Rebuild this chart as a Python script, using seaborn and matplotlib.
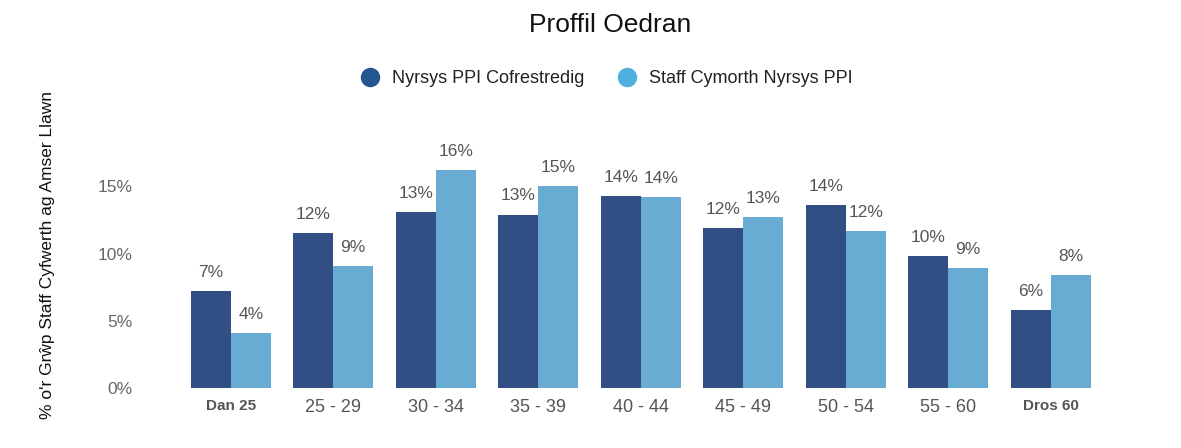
import matplotlib
matplotlib.use("Agg")
import matplotlib.pyplot as plt
import pandas as pd
import seaborn as sns
from matplotlib.lines import Line2D

# Age groups and shares (%)
age_groups = ["Dan 25", "25 - 29", "30 - 34", "35 - 39", "40 - 44",
              "45 - 49", "50 - 54", "55 - 60", "Dros 60"]
registered = [7.2, 11.5, 13.1, 12.9, 14.3, 11.9, 13.6, 9.8, 5.8]
support = [4.1, 9.1, 16.2, 15.0, 14.2, 12.7, 11.7, 8.9, 8.4]
series_names = ["Nyrsys PPI Cofrestredig", "Staff Cymorth Nyrsys PPI"]
bar_colors = ["#314f84", "#68acd3"]
legend_colors = ["#25578f", "#4fb0e0"]

df = pd.DataFrame({
    "grwp": age_groups * 2,
    "gwerth": registered + support,
    "cyfres": [series_names[0]] * len(age_groups) + [series_names[1]] * len(age_groups),
})

sns.set_theme(style="white")
plt.rcParams["font.family"] = ["Liberation Sans", "DejaVu Sans"]

fig = plt.figure(figsize=(11.81, 4.48), dpi=100)
ax = fig.add_axes([0.152, 0.134, 0.781, 0.54])

sns.barplot(data=df, x="grwp", y="gwerth", hue="cyfres", order=age_groups,
            hue_order=series_names, palette=bar_colors, width=0.78,
            saturation=1, ax=ax, legend=False, linewidth=0)

for cont in ax.containers:
    labels = [f"{round(b.get_height()):d}%" for b in cont]
    ax.bar_label(cont, labels=labels, padding=8, fontsize=12.5, color="#555555")

ax.set_xlim(-0.5, 8.5)
ax.set_ylim(0, 18)
ax.set_yticks([0, 5, 10, 15])
ax.set_yticklabels(["0%", "5%", "10%", "15%"])
ax.tick_params(axis="y", length=0, pad=34, labelsize=12.5, labelcolor="#666666")
ax.tick_params(axis="x", length=0, pad=8, labelsize=13, labelcolor="#555555")
for lbl in ax.get_xticklabels():
    if lbl.get_text() in ("Dan 25", "Dros 60"):
        lbl.set_fontsize(11)
        lbl.set_fontweight("bold")

ax.set_xlabel("")
ax.set_ylabel("% o'r Grŵp Staff Cyfwerth ag Amser Llawn", fontsize=12.5,
              color="#111111", labelpad=0)
ax.yaxis.set_label_coords(-0.135, 0.55)
sns.despine(ax=ax, left=True, bottom=True)

fig.text(0.517, 0.945, "Proffil Oedran", ha="center", va="center",
         fontsize=19, color="#111111")

handles = [Line2D([0], [0], marker="o", linestyle="", markersize=14,
                  markerfacecolor=c, markeredgewidth=0) for c in legend_colors]
fig.legend(handles, series_names, loc="center", bbox_to_anchor=(0.51, 0.825),
           ncol=2, frameon=False, fontsize=13, handletextpad=0.2,
           columnspacing=1.4, labelcolor="#222222")

fig.savefig("out.png", dpi=100)
